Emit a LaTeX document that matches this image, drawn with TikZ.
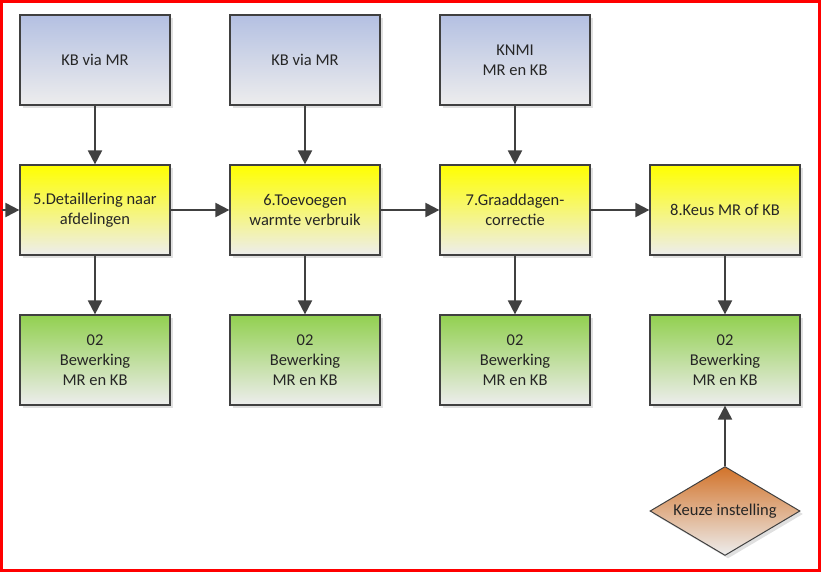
\documentclass[tikz,border=0pt]{standalone}
\usepackage{fontspec}
\setmainfont{Carlito}
\usetikzlibrary{arrows.meta,shapes.geometric,shadows}
\definecolor{edge}{HTML}{404040}
\definecolor{bluetop}{HTML}{B4C0E2}
\definecolor{yel}{HTML}{FFFF00}
\definecolor{grn}{HTML}{92D050}
\definecolor{org}{HTML}{D2732A}
\definecolor{paleb}{HTML}{EDEDED}
\definecolor{framered}{HTML}{FF0000}
\tikzset{
  x=1pt,y=-1pt,
  box/.style={draw=edge,line width=1.2pt,minimum width=150pt,minimum height=90pt,inner sep=0pt,
    align=center,font=\fontsize{16.5pt}{20pt}\selectfont,text=black!85,
    drop shadow={shadow xshift=3pt,shadow yshift=-3pt,fill=black!12,opacity=1}},
  srcbox/.style={box,top color=bluetop,bottom color=paleb},
  stepbox/.style={box,top color=yel,bottom color=paleb},
  outbox/.style={box,top color=grn,bottom color=paleb},
  choice/.style={diamond,draw=edge,line width=1pt,minimum width=150pt,minimum height=89pt,aspect=1.685,
    inner sep=0pt,top color=org,bottom color=paleb,font=\fontsize{16.5pt}{20pt}\selectfont,text=black!85,
    drop shadow={shadow xshift=3pt,shadow yshift=-3pt,fill=black!12,opacity=1}},
  conn/.style={draw=edge,line width=2pt,-{Triangle[length=14pt,width=14pt]}}
}
\begin{document}
\begin{tikzpicture}
\useasboundingbox (0,0) rectangle (822,573);
\draw[framered,line width=3pt] (1.5,1.5) rectangle (819.5,570.5);

\node[srcbox] (s1) at (95,60) {KB via MR};
\node[srcbox] (s2) at (305,60) {KB via MR};
\node[srcbox] (s3) at (515,60) {KNMI\\MR en KB};

\node[stepbox] (p5) at (95,210) {5.Detaillering naar\\afdelingen};
\node[stepbox] (p6) at (305,210) {6.Toevoegen\\warmte verbruik};
\node[stepbox] (p7) at (515,210) {7.Graaddagen-\\correctie};
\node[stepbox] (p8) at (725,210) {8.Keus MR of KB};

\node[outbox] (o1) at (95,360) {02\\Bewerking\\MR en KB};
\node[outbox] (o2) at (305,360) {02\\Bewerking\\MR en KB};
\node[outbox] (o3) at (515,360) {02\\Bewerking\\MR en KB};
\node[outbox] (o4) at (725,360) {02\\Bewerking\\MR en KB};

\node[choice] (k) at (725,511) {Keuze instelling};

\coordinate (in) at (2,210);

\draw[conn] (in) -- (p5.west);
\draw[conn] (s1) -- (p5);
\draw[conn] (s2) -- (p6);
\draw[conn] (s3) -- (p7);
\draw[conn] (p5) -- (p6);
\draw[conn] (p6) -- (p7);
\draw[conn] (p7) -- (p8);
\draw[conn] (p5) -- (o1);
\draw[conn] (p6) -- (o2);
\draw[conn] (p7) -- (o3);
\draw[conn] (p8) -- (o4);
\draw[conn] (k.north) -- (o4.south);
\end{tikzpicture}
\end{document}
